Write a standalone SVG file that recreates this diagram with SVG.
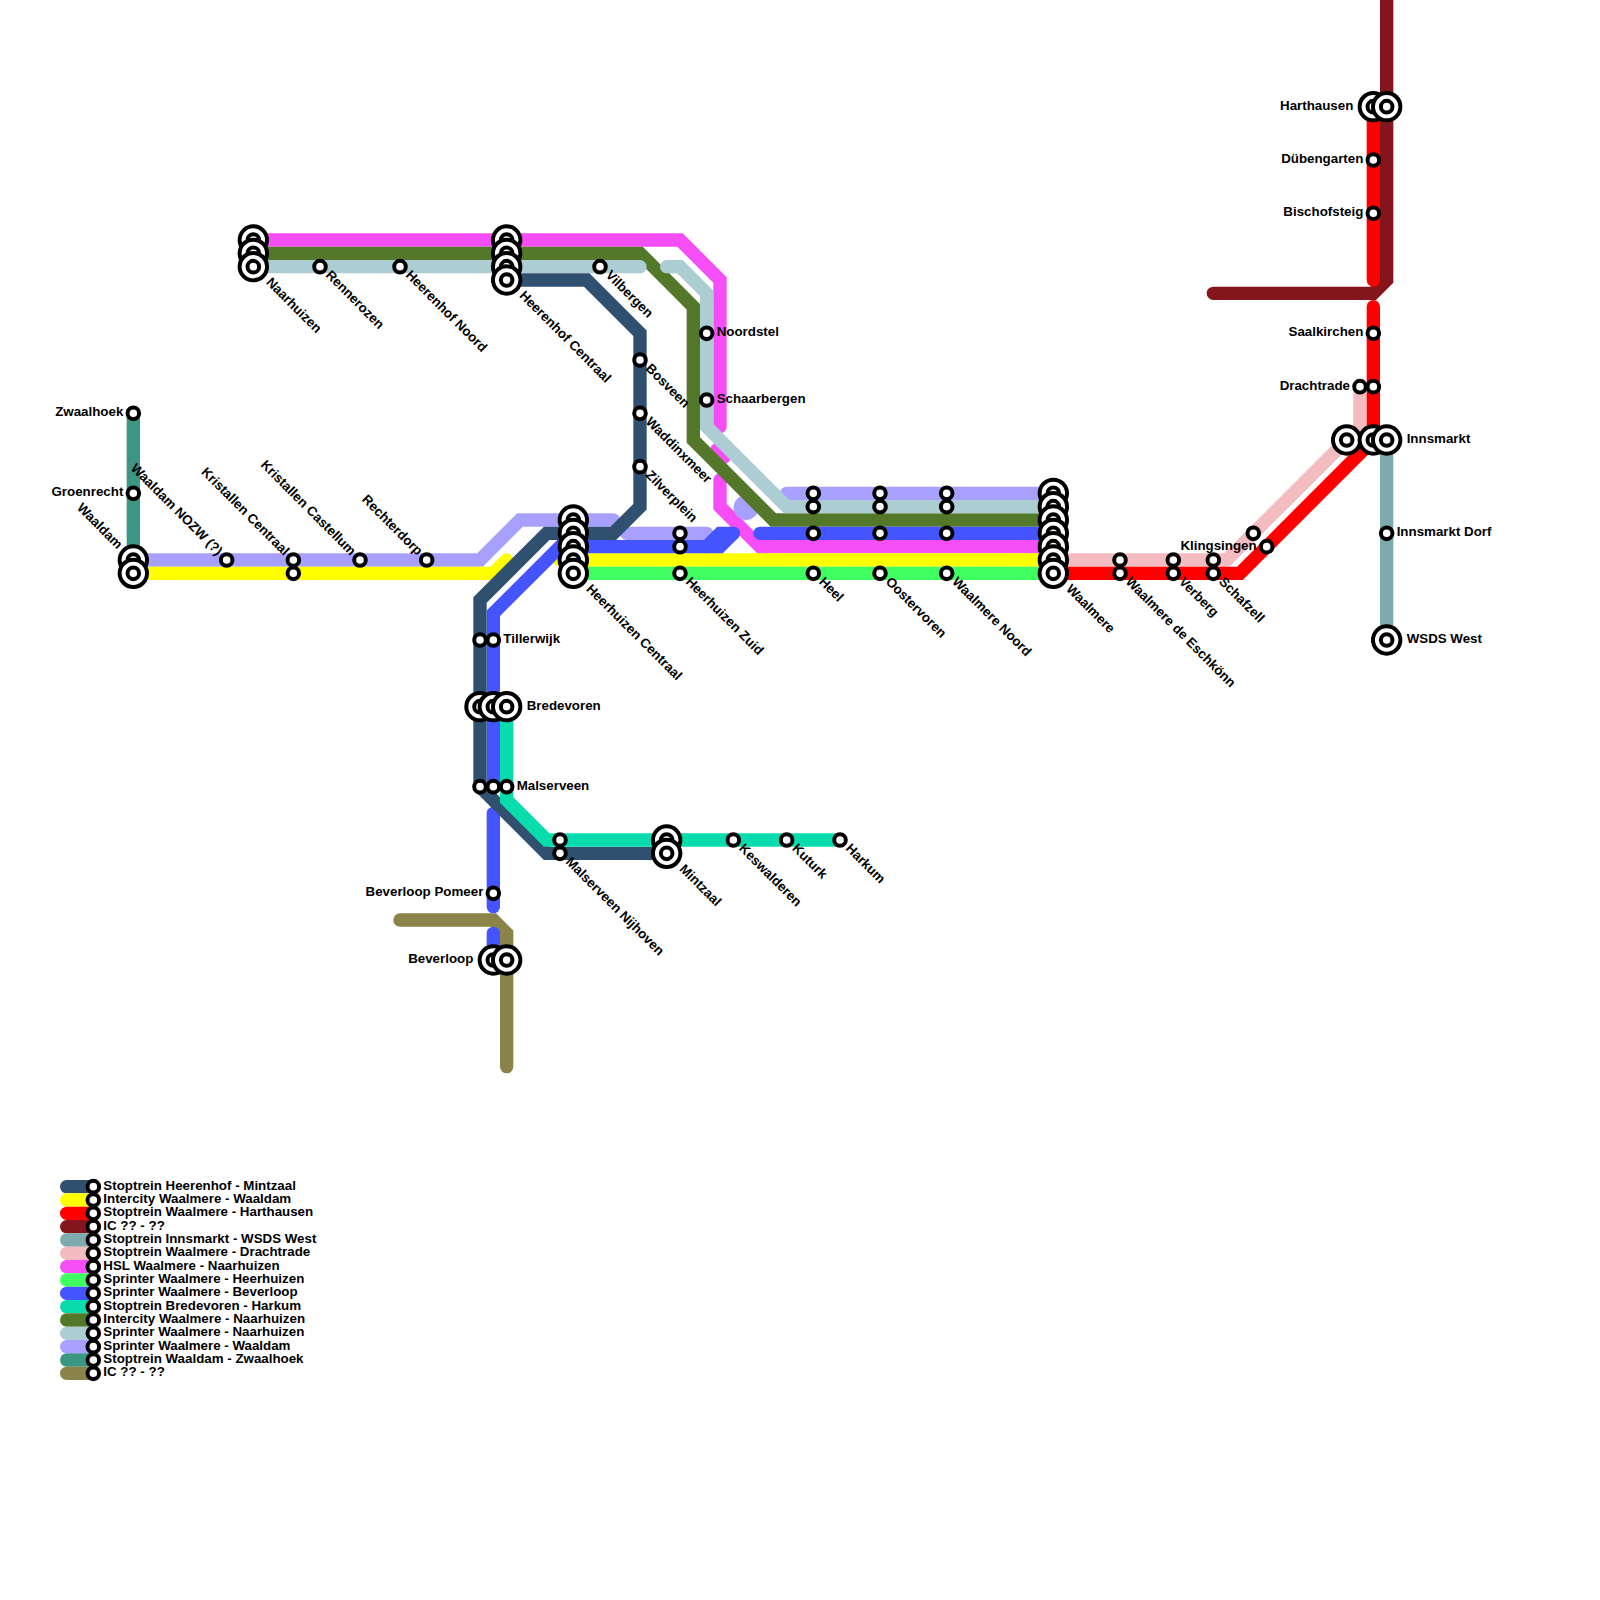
<svg xmlns="http://www.w3.org/2000/svg" width="1600" height="1600" viewBox="0 0 1600 1600">
<style>
text{font-family:"Liberation Sans",Arial,sans-serif;font-weight:700;font-size:13.33px;fill:#000}
.e{text-anchor:end}
.ln{fill:none;stroke-width:1;stroke-linecap:round;stroke-linejoin:miter}
.stop{fill:#fff;stroke:#000;stroke-width:4}
.db{stroke:#305070}.ye{stroke:#ffff00}.re{stroke:#ff0000}.dr{stroke:#85151c}.st{stroke:#7dabad}.pk{stroke:#f4bcc1}.mg{stroke:#f64ef6}.lg{stroke:#40ff60}.bl{stroke:#4455ff}.te{stroke:#08dcae}.ol{stroke:#54782a}.lb{stroke:#accdd1}.pu{stroke:#a8a0ff}.se{stroke:#3c9684}.kh{stroke:#8a834a}
</style>
<defs>
<g id="s"><circle class="stop" r="5.8"/></g>
<g id="h"><circle class="stop" r="13.7"/><circle class="stop" r="5.8"/></g>
</defs>
<g id="connectors" transform="scale(13.33333)">
<path class="ln mg" d="M19 18H51L54 21V32"/>
<path class="ln mg" d="M53.75 33.75L54.3 34.3"/>
<path class="ln mg" d="M54 36V38L57 41H79"/>
<path class="ln pu" d="M10 42H36L39 39H46"/>
<path class="ln pu" d="M47 40H53"/>
<path class="ln pu" style="stroke-width:1.86" d="M55.95 38.07h.01"/>
<path class="ln pu" d="M59 37H79"/>
<path class="ln kh" d="M30 69H37L38 70V80"/>
<path class="ln se" d="M10 31V42"/>
<path class="ln ol" d="M19 19H48L52 23V33L58 39H79"/>
<path class="ln lb" d="M19 20H48"/>
<path class="ln lb" d="M50 20H51L53 22V32L59 38H79"/>
<path class="ln ye" d="M10 43H37L38 42"/>
<path class="ln ye" d="M42 42H79"/>
<path class="ln lg" d="M43 43H79"/>
<path class="ln pk" d="M79 42H92L102 32V29"/>
<path class="ln dr" d="M104 -1V21L103 22H91"/>
<path class="ln re" d="M103 8V21"/>
<path class="ln re" d="M103 23V33L93 43H79"/>
<path class="ln st" d="M104 33V48"/>
<path class="ln bl" d="M37 59V46L42 41H54L55 40"/>
<path class="ln bl" d="M53 41L54 40H55"/>
<path class="ln bl" d="M57 40H79"/>
<path class="ln bl" d="M37 61V68"/>
<path class="ln bl" d="M37 70V72"/>
<path class="ln db" d="M38 21H44L48 25V38L46 40H41L36 45V59L41 64H50"/>
<path class="ln te" d="M38 53V60L41 63H63"/>
<path class="ln db" d="M5 89H7"/><path class="ln ye" d="M5 90H7"/><path class="ln re" d="M5 91H7"/><path class="ln dr" d="M5 92H7"/><path class="ln st" d="M5 93H7"/><path class="ln pk" d="M5 94H7"/><path class="ln mg" d="M5 95H7"/><path class="ln lg" d="M5 96H7"/><path class="ln bl" d="M5 97H7"/><path class="ln te" d="M5 98H7"/><path class="ln ol" d="M5 99H7"/><path class="ln lb" d="M5 100H7"/><path class="ln pu" d="M5 101H7"/><path class="ln se" d="M5 102H7"/><path class="ln kh" d="M5 103H7"/>
</g>
<g id="zwaalhoek"><use href="#s" x="133.33" y="413.33"/><text class="e" x="123.33" y="416.3">Zwaalhoek</text></g>
<g id="groenrecht"><use href="#s" x="133.33" y="493.33"/><text class="e" x="123.33" y="496.3">Groenrecht</text></g>
<g id="waaldam"><use href="#h" x="133.33" y="560"/><use href="#h" x="133.33" y="573.33"/><text class="e" transform="translate(120 546.7) rotate(45)" y="4">Waaldam</text></g>
<g id="waaldam-nozw"><use href="#s" x="226.67" y="560"/><text class="e" transform="translate(220 553.3) rotate(45)" y="4">Waaldam NOZW (?)</text></g>
<g id="kristallen-centraal"><use href="#s" x="293.33" y="560"/><use href="#s" x="293.33" y="573.33"/><text class="e" transform="translate(286.67 553.3) rotate(45)" y="4">Kristallen Centraal</text></g>
<g id="kristallen-castellum"><use href="#s" x="360" y="560"/><text class="e" transform="translate(353.33 553.3) rotate(45)" y="4">Kristallen Castellum</text></g>
<g id="rechterdorp"><use href="#s" x="426.67" y="560"/><text class="e" transform="translate(420 553.3) rotate(45)" y="4">Rechterdorp</text></g>
<g id="naarhuizen"><use href="#h" x="253.33" y="240"/><use href="#h" x="253.33" y="253.33"/><use href="#h" x="253.33" y="266.67"/><text transform="translate(267.5 280.9) rotate(45)" y="3">Naarhuizen</text></g>
<g id="rennerozen"><use href="#s" x="320" y="266.67"/><text transform="translate(327 273.67) rotate(45)" y="3">Rennerozen</text></g>
<g id="heerenhof-noord"><use href="#s" x="400" y="266.67"/><text transform="translate(407 273.67) rotate(45)" y="3">Heerenhof Noord</text></g>
<g id="heerenhof-centraal"><use href="#h" x="506.67" y="240"/><use href="#h" x="506.67" y="253.33"/><use href="#h" x="506.67" y="266.67"/><use href="#h" x="506.67" y="280"/><text transform="translate(520.87 294.2) rotate(45)" y="3">Heerenhof Centraal</text></g>
<g id="vilbergen"><use href="#s" x="600" y="266.67"/><text transform="translate(607 273.67) rotate(45)" y="3">Vilbergen</text></g>
<g id="bosveen"><use href="#s" x="640" y="360"/><text transform="translate(647 367) rotate(45)" y="3">Bosveen</text></g>
<g id="waddinxmeer"><use href="#s" x="640" y="413.33"/><text transform="translate(647 420.33) rotate(45)" y="3">Waddinxmeer</text></g>
<g id="zilverplein"><use href="#s" x="640" y="466.67"/><text transform="translate(647 473.67) rotate(45)" y="3">Zilverplein</text></g>
<g id="noordstel"><use href="#s" x="706.67" y="333.33"/><text x="716.67" y="336.3">Noordstel</text></g>
<g id="schaarbergen"><use href="#s" x="706.67" y="400"/><text x="716.67" y="403">Schaarbergen</text></g>
<g id="heerhuizen-centraal"><use href="#h" x="573.33" y="520"/><use href="#h" x="573.33" y="533.33"/><use href="#h" x="573.33" y="546.67"/><use href="#h" x="573.33" y="560"/><use href="#h" x="573.33" y="573.33"/><text transform="translate(587.53 587.53) rotate(45)" y="3">Heerhuizen Centraal</text></g>
<g id="heerhuizen-zuid"><use href="#s" x="680" y="533.33"/><use href="#s" x="680" y="546.67"/><use href="#s" x="680" y="573.33"/><text transform="translate(687 580.33) rotate(45)" y="3">Heerhuizen Zuid</text></g>
<g id="heel"><use href="#s" x="813.33" y="493.33"/><use href="#s" x="813.33" y="506.67"/><use href="#s" x="813.33" y="533.33"/><use href="#s" x="813.33" y="573.33"/><text transform="translate(820.33 580.33) rotate(45)" y="3">Heel</text></g>
<g id="oostervoren"><use href="#s" x="880" y="493.33"/><use href="#s" x="880" y="506.67"/><use href="#s" x="880" y="533.33"/><use href="#s" x="880" y="573.33"/><text transform="translate(887 580.33) rotate(45)" y="3">Oostervoren</text></g>
<g id="waalmere-noord"><use href="#s" x="946.67" y="493.33"/><use href="#s" x="946.67" y="506.67"/><use href="#s" x="946.67" y="533.33"/><use href="#s" x="946.67" y="573.33"/><text transform="translate(953.67 580.33) rotate(45)" y="3">Waalmere Noord</text></g>
<g id="waalmere"><use href="#h" x="1053.33" y="493.33"/><use href="#h" x="1053.33" y="506.67"/><use href="#h" x="1053.33" y="520"/><use href="#h" x="1053.33" y="533.33"/><use href="#h" x="1053.33" y="546.67"/><use href="#h" x="1053.33" y="560"/><use href="#h" x="1053.33" y="573.33"/><text transform="translate(1067.53 587.53) rotate(45)" y="3">Waalmere</text></g>
<g id="waalmere-de-eschkonn"><use href="#s" x="1120" y="560"/><use href="#s" x="1120" y="573.33"/><text transform="translate(1127 580.33) rotate(45)" y="3">Waalmere de Eschkönn</text></g>
<g id="verberg"><use href="#s" x="1173.33" y="560"/><use href="#s" x="1173.33" y="573.33"/><text transform="translate(1180.33 580.33) rotate(45)" y="3">Verberg</text></g>
<g id="schafzell"><use href="#s" x="1213.33" y="560"/><use href="#s" x="1213.33" y="573.33"/><text transform="translate(1220.33 580.33) rotate(45)" y="3">Schafzell</text></g>
<g id="klingsingen"><use href="#s" x="1253.33" y="533.33"/><use href="#s" x="1266.67" y="546.67"/><text class="e" x="1256.67" y="549.7">Klingsingen</text></g>
<g id="innsmarkt"><use href="#h" x="1346.67" y="440"/><use href="#h" x="1373.33" y="440"/><use href="#h" x="1386.67" y="440"/><text x="1406.67" y="443">Innsmarkt</text></g>
<g id="drachtrade"><use href="#s" x="1360" y="386.67"/><use href="#s" x="1373.33" y="386.67"/><text class="e" x="1350" y="389.7">Drachtrade</text></g>
<g id="saalkirchen"><use href="#s" x="1373.33" y="333.33"/><text class="e" x="1363.33" y="336.3">Saalkirchen</text></g>
<g id="bischofsteig"><use href="#s" x="1373.33" y="213.33"/><text class="e" x="1363.33" y="216.3">Bischofsteig</text></g>
<g id="dubengarten"><use href="#s" x="1373.33" y="160"/><text class="e" x="1363.33" y="163">Dübengarten</text></g>
<g id="harthausen"><use href="#h" x="1373.33" y="106.67"/><use href="#h" x="1386.67" y="106.67"/><text class="e" x="1353.33" y="109.7">Harthausen</text></g>
<g id="innsmarkt-dorf"><use href="#s" x="1386.67" y="533.33"/><text x="1396.67" y="536.3">Innsmarkt Dorf</text></g>
<g id="wsds-west"><use href="#h" x="1386.67" y="640"/><text x="1406.67" y="643">WSDS West</text></g>
<g id="tillerwijk"><use href="#s" x="480" y="640"/><use href="#s" x="493.33" y="640"/><text x="503.33" y="643">Tillerwijk</text></g>
<g id="bredevoren"><use href="#h" x="480" y="706.67"/><use href="#h" x="493.33" y="706.67"/><use href="#h" x="506.67" y="706.67"/><text x="526.67" y="709.7">Bredevoren</text></g>
<g id="malserveen"><use href="#s" x="480" y="786.67"/><use href="#s" x="493.33" y="786.67"/><use href="#s" x="506.67" y="786.67"/><text x="516.67" y="789.7">Malserveen</text></g>
<g id="malserveen-nijhoven"><use href="#s" x="560" y="840"/><use href="#s" x="560" y="853.33"/><text transform="translate(567 860.33) rotate(45)" y="3">Malserveen Nijhoven</text></g>
<g id="mintzaal"><use href="#h" x="666.67" y="840"/><use href="#h" x="666.67" y="853.33"/><text transform="translate(680.87 867.53) rotate(45)" y="3">Mintzaal</text></g>
<g id="keswalderen"><use href="#s" x="733.33" y="840"/><text transform="translate(740.33 847) rotate(45)" y="3">Keswalderen</text></g>
<g id="kuturk"><use href="#s" x="786.67" y="840"/><text transform="translate(793.67 847) rotate(45)" y="3">Kuturk</text></g>
<g id="harkum"><use href="#s" x="840" y="840"/><text transform="translate(847 847) rotate(45)" y="3">Harkum</text></g>
<g id="beverloop-pomeer"><use href="#s" x="493.33" y="893.33"/><text class="e" x="483.33" y="896.3">Beverloop Pomeer</text></g>
<g id="beverloop"><use href="#h" x="493.33" y="960"/><use href="#h" x="506.67" y="960"/><text class="e" x="473.33" y="963">Beverloop</text></g>
<g id="legend">
<use href="#s" x="93.33" y="1186.67"/><text x="103.33" y="1189.7">Stoptrein Heerenhof - Mintzaal</text>
<use href="#s" x="93.33" y="1200"/><text x="103.33" y="1203">Intercity Waalmere - Waaldam</text>
<use href="#s" x="93.33" y="1213.33"/><text x="103.33" y="1216.3">Stoptrein Waalmere - Harthausen</text>
<use href="#s" x="93.33" y="1226.67"/><text x="103.33" y="1229.7">IC ?? - ??</text>
<use href="#s" x="93.33" y="1240"/><text x="103.33" y="1243">Stoptrein Innsmarkt - WSDS West</text>
<use href="#s" x="93.33" y="1253.33"/><text x="103.33" y="1256.3">Stoptrein Waalmere - Drachtrade</text>
<use href="#s" x="93.33" y="1266.67"/><text x="103.33" y="1269.7">HSL Waalmere - Naarhuizen</text>
<use href="#s" x="93.33" y="1280"/><text x="103.33" y="1283">Sprinter Waalmere - Heerhuizen</text>
<use href="#s" x="93.33" y="1293.33"/><text x="103.33" y="1296.3">Sprinter Waalmere - Beverloop</text>
<use href="#s" x="93.33" y="1306.67"/><text x="103.33" y="1309.7">Stoptrein Bredevoren - Harkum</text>
<use href="#s" x="93.33" y="1320"/><text x="103.33" y="1323">Intercity Waalmere - Naarhuizen</text>
<use href="#s" x="93.33" y="1333.33"/><text x="103.33" y="1336.3">Sprinter Waalmere - Naarhuizen</text>
<use href="#s" x="93.33" y="1346.67"/><text x="103.33" y="1349.7">Sprinter Waalmere - Waaldam</text>
<use href="#s" x="93.33" y="1360"/><text x="103.33" y="1363">Stoptrein Waaldam - Zwaalhoek</text>
<use href="#s" x="93.33" y="1373.33"/><text x="103.33" y="1376.3">IC ?? - ??</text>
</g>
</svg>
